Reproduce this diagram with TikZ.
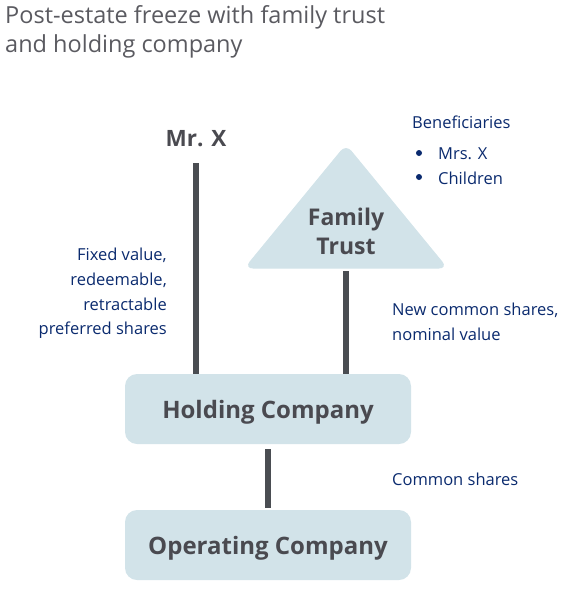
\documentclass[tikz,border=0pt]{standalone}
\usepackage{fontspec}
\setmainfont{Open Sans}
\definecolor{boxfill}{HTML}{D2E3E9}
\definecolor{linegray}{HTML}{4A4D52}
\definecolor{txtgray}{HTML}{4A4A50}
\definecolor{navy}{HTML}{0A2A6E}
\definecolor{titlegray}{HTML}{5A5A60}
\begin{document}
\begin{tikzpicture}[x=1pt,y=-1pt,
  company/.style={draw=none,fill=boxfill,rounded corners=12pt,minimum width=286pt,minimum height=70pt,font=\fontsize{24}{28}\selectfont\bfseries,text=txtgray},
  companytext/.style={font=\fontsize{24}{28}\selectfont\bfseries,text=txtgray},
  link/.style={draw=linegray,line width=6pt},
  lbl/.style={font=\fontsize{16.5}{24.7}\selectfont,text=navy,inner sep=0pt}]
\useasboundingbox (0,0) rectangle (575,598);
\node[anchor=west,font=\fontsize{23.5}{29}\selectfont,text=titlegray,align=left,inner sep=0pt] (title) at (5,32) {Post-estate freeze with family trust\\and holding company};
\node[font=\fontsize{22.5}{26}\selectfont\bfseries,text=txtgray] (mrx) at (196,139) {Mr. X};
\coordinate (mrxb) at (196,163);
\filldraw[fill=boxfill,draw=boxfill,line width=1pt,rounded corners=8pt] (346,145) -- (447,268) -- (245,268) -- cycle;
\coordinate (trustb) at (346,271);
\node[font=\fontsize{23}{29}\selectfont\bfseries,text=txtgray,align=center] (trust) at (346,231) {Family\\Trust};
\node[company] (hold) at (268,409) {};
\node[companytext] (holdt) at (268,412) {Holding Company};
\node[company] (op) at (268,545) {};
\node[companytext] (opt) at (268,548) {Operating Company};
\draw[link] (mrxb) -- (mrxb |- hold.north);
\draw[link] (trustb) -- (trustb |- hold.north);
\draw[link] ([yshift=-5pt]hold.south) -- ([yshift=2pt]op.north);
\node[lbl,anchor=west] (ben) at (412,122) {Beneficiaries};
\fill[navy] (419,153) circle (3pt);
\fill[navy] (419,177) circle (3pt);
\node[lbl,anchor=west] (b1) at (438,154) {Mrs. X};
\node[lbl,anchor=west] (b2) at (438,178) {Children};
\node[lbl,align=right,anchor=north east] (fixed) at (167,248) {Fixed value,\\redeemable,\\retractable\\preferred shares};
\node[lbl,align=left,anchor=north west] (newc) at (392,303) {New common shares,\\nominal value};
\node[lbl,anchor=west] (comm) at (392,479) {Common shares};
\end{tikzpicture}
\end{document}
